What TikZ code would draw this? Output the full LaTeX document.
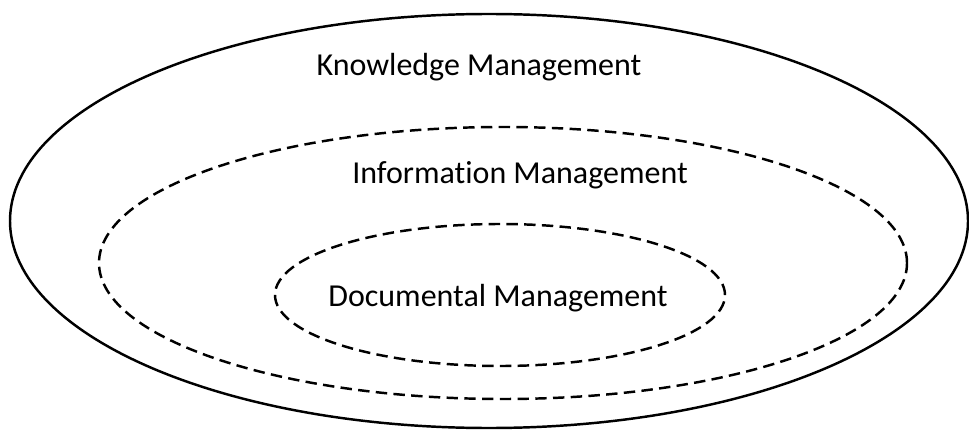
\documentclass[tikz,border=0pt]{standalone}
\usepackage{fontspec}
\setmainfont[Ligatures=NoCommon]{Carlito}
\usetikzlibrary{positioning}

\begin{document}
\begin{tikzpicture}[line width=1.4pt, every node/.style={font=\fontsize{18.2}{21}\selectfont},
    dashring/.style={dash pattern=on 6.5pt off 3.6pt}]
    \useasboundingbox (0, 0) rectangle (19.38, 8.6);

    % Rings
    \draw (9.78, 4.18) ellipse (9.58 and 4.14);
    \draw[dashring] (10.06, 3.34) ellipse (8.08 and 2.72);
    \draw[dashring] (10.0, 2.70) ellipse (4.5 and 1.42);

    % Labels
    \node (knowledge) at (9.58, 7.26) {Knowledge Management};
    \node (information) at (10.4, 5.1) {Information Management};
    \node (documental) at (9.96, 2.64) {Documental Management};
\end{tikzpicture}
\end{document}
